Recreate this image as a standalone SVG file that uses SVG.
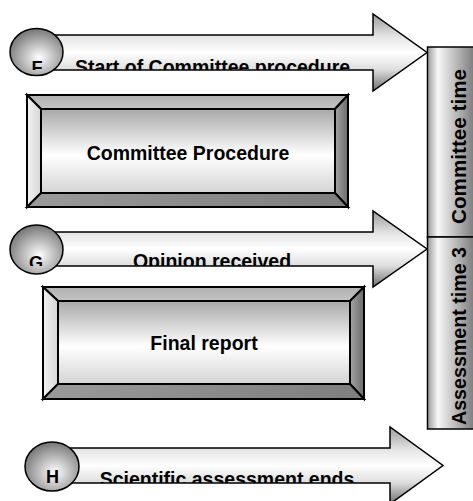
<svg xmlns="http://www.w3.org/2000/svg" width="473" height="501" viewBox="0 0 473 501">
<defs>
<linearGradient id="gArrow" x1="0" y1="0" x2="0" y2="1">
<stop offset="0" stop-color="#9a9a9a"/>
<stop offset="0.3" stop-color="#e6e6e6"/>
<stop offset="0.5" stop-color="#ffffff"/>
<stop offset="0.72" stop-color="#dedede"/>
<stop offset="1" stop-color="#6e6e6e"/>
</linearGradient>
<radialGradient id="gCircle" cx="0.55" cy="0.62" r="0.6">
<stop offset="0" stop-color="#ffffff"/>
<stop offset="1" stop-color="#7a7a7a"/>
</radialGradient>
<linearGradient id="gFace" x1="0" y1="0" x2="0" y2="1">
<stop offset="0" stop-color="#a8a8a8"/>
<stop offset="0.55" stop-color="#ffffff"/>
<stop offset="1" stop-color="#d4d4d4"/>
</linearGradient>
<linearGradient id="gTop" x1="0" y1="0" x2="0" y2="1">
<stop offset="0" stop-color="#b0b0b0"/>
<stop offset="1" stop-color="#c4c4c4"/>
</linearGradient>
<linearGradient id="gLeft" x1="0" y1="0" x2="1" y2="0">
<stop offset="0" stop-color="#f2f2f2"/>
<stop offset="1" stop-color="#d6d6d6"/>
</linearGradient>
<linearGradient id="gRight" x1="0" y1="0" x2="1" y2="0">
<stop offset="0" stop-color="#a4a4a4"/>
<stop offset="1" stop-color="#6a6a6a"/>
</linearGradient>
<linearGradient id="gBottom" x1="0" y1="0" x2="1" y2="0">
<stop offset="0" stop-color="#9a9a9a"/>
<stop offset="1" stop-color="#7e7e7e"/>
</linearGradient>
<linearGradient id="gBar" x1="0" y1="0" x2="1" y2="0">
<stop offset="0" stop-color="#9a9a9a"/>
<stop offset="0.2" stop-color="#f8f8f8"/>
<stop offset="1" stop-color="#6a6a6a"/>
</linearGradient>
<clipPath id="cF"><rect x="0" y="0" width="473" height="70"/></clipPath>
<clipPath id="cG"><rect x="0" y="0" width="473" height="266"/></clipPath>
<clipPath id="cH"><rect x="0" y="0" width="473" height="483"/></clipPath>
</defs>
<style>
.arrow{fill:url(#gArrow);stroke:#000;stroke-width:1.5;stroke-linejoin:miter}
.circ{fill:url(#gCircle);stroke:#000;stroke-width:1.5}
.lbl{font-family:"Liberation Sans",Arial,sans-serif;font-weight:bold;font-size:19.5px;fill:#000;text-anchor:middle}
.let{font-family:"Liberation Sans",Arial,sans-serif;font-weight:bold;font-size:18px;fill:#000;text-anchor:middle}
.edge{stroke:#000;stroke-width:2;stroke-linejoin:miter}
.bar{fill:url(#gBar);stroke:#000;stroke-width:1.5}
.bartxt{font-family:"Liberation Sans",Arial,sans-serif;font-weight:bold;font-size:20.5px;fill:#000;text-anchor:middle}
</style>

<g id="arrow-F">
<polygon class="arrow" points="50,35 373,35 373,14 427,52.5 373,91 373,70 50,70"/>
<ellipse class="circ" cx="36.5" cy="52" rx="26.5" ry="23.5"/>
<g clip-path="url(#cF)">
<text class="let" x="37" y="74">F</text>
<text class="lbl" x="212.5" y="73.7">Start of Committee procedure</text>
</g>
</g>

<g id="box-committee">
<polygon class="edge" fill="url(#gTop)" points="27,95 348,95 335,109 41,109"/>
<polygon class="edge" fill="url(#gLeft)" points="27,95 41,109 41,193 27,207"/>
<polygon class="edge" fill="url(#gRight)" points="348,95 348,207 335,193 335,109"/>
<polygon class="edge" fill="url(#gBottom)" points="27,207 41,193 335,193 348,207"/>
<rect class="edge" fill="url(#gFace)" x="41" y="109" width="294" height="84"/>
<text class="lbl" x="188" y="159.5">Committee Procedure</text>
</g>

<g id="arrow-G">
<polygon class="arrow" points="50,232 373,232 373,211 427,249 373,287 373,266 50,266"/>
<ellipse class="circ" cx="36.5" cy="249.5" rx="26.5" ry="24.5"/>
<g clip-path="url(#cG)">
<text class="let" x="36" y="269">G</text>
<text class="lbl" x="212" y="267.7">Opinion received</text>
</g>
</g>

<g id="box-final">
<polygon class="edge" fill="url(#gTop)" points="43,287 364,287 350,301 58,301"/>
<polygon class="edge" fill="url(#gLeft)" points="43,287 58,301 58,384 43,399"/>
<polygon class="edge" fill="url(#gRight)" points="364,287 364,399 350,384 350,301"/>
<polygon class="edge" fill="url(#gBottom)" points="43,399 58,384 350,384 364,399"/>
<rect class="edge" fill="url(#gFace)" x="58" y="301" width="292" height="83"/>
<text class="lbl" x="204" y="349.7">Final report</text>
</g>

<g id="arrow-H">
<polygon class="arrow" points="66,448 390,448 390,427 443,465.5 390,504 390,483 66,483"/>
<ellipse class="circ" cx="52" cy="466.5" rx="27" ry="24.5"/>
<g clip-path="url(#cH)">
<text class="let" x="52.5" y="483">H</text>
<text class="lbl" x="227" y="485.7">Scientific assessment ends</text>
</g>
</g>

<g id="bar-committee-time">
<rect class="bar" x="427.5" y="47" width="52" height="190"/>
<text class="bartxt" transform="translate(466,146.5) rotate(-90)" textLength="155" lengthAdjust="spacingAndGlyphs">Committee time</text>
</g>
<g id="bar-assessment-time">
<rect class="bar" x="427.5" y="237" width="52" height="192"/>
<text class="bartxt" transform="translate(466,336) rotate(-90)" textLength="178" lengthAdjust="spacingAndGlyphs">Assessment time 3</text>
</g>

<g id="connectors"/>
</svg>
